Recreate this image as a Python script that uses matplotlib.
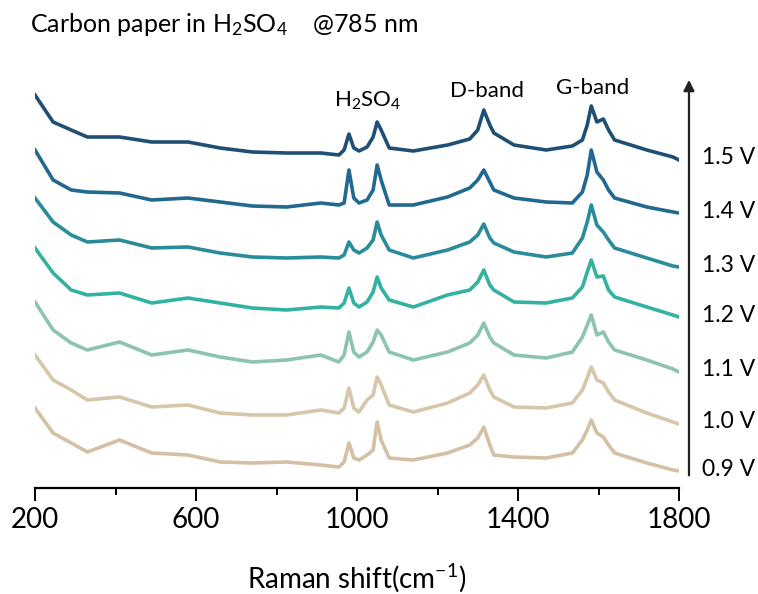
import numpy as np
import matplotlib
matplotlib.use("Agg")
import matplotlib.pyplot as plt
import matplotlib.transforms as mtransforms

plt.rcParams['font.family'] = ['Lato', 'DejaVu Sans']
plt.rcParams['mathtext.default'] = 'regular'

# Raman shift sampling points (cm-1)
raman = [200, 245, 290, 330, 410, 490, 580, 660, 740, 825,
         910, 955, 968, 980, 992, 1005, 1025, 1040, 1050, 1060,
         1080, 1140, 1225, 1280, 1300, 1315, 1330, 1340, 1390, 1470,
         1535, 1560, 1572, 1582, 1596, 1612, 1625, 1640, 1720, 1785, 1800]

# stacked intensities (a.u.)
i_15 = [405, 378, 370, 363, 363, 358, 358, 352, 348, 347,
        347, 345, 350, 366, 352, 349, 353, 363, 378, 370,
        352, 349, 355, 361, 370, 390, 375, 367, 355, 350,
        354, 360, 375, 394, 378, 381, 370, 360, 350, 343, 340]
i_14 = [350, 320, 310, 308, 307, 300, 302, 298, 294, 293,
        297, 295, 297, 330, 302, 297, 300, 310, 335, 320,
        295, 295, 303, 312, 320, 330, 318, 310, 302, 298,
        297, 308, 325, 350, 328, 320, 310, 302, 293, 288, 287]
i_13 = [302, 278, 265, 258, 260, 252, 253, 247, 243, 242,
        243, 242, 245, 258, 250, 247, 252, 260, 278, 265,
        250, 242, 250, 258, 265, 276, 262, 257, 248, 243,
        247, 262, 278, 295, 275, 268, 260, 252, 242, 234, 233]
i_12 = [252, 227, 210, 205, 207, 197, 202, 197, 192, 190,
        193, 192, 197, 212, 197, 193, 198, 208, 223, 212,
        200, 193, 205, 210, 218, 230, 215, 210, 198, 197,
        202, 213, 228, 240, 223, 224, 210, 203, 193, 185, 183]
i_11 = [198, 170, 157, 150, 158, 145, 150, 143, 138, 140,
        145, 138, 145, 168, 148, 143, 148, 158, 170, 165,
        148, 140, 148, 157, 165, 177, 163, 157, 145, 142,
        148, 163, 175, 185, 165, 168, 158, 150, 140, 131, 128]
i_10 = [145, 120, 110, 100, 103, 93, 95, 87, 85, 85,
        90, 87, 92, 112, 92, 88, 100, 105, 123, 115,
        95, 88, 97, 107, 115, 125, 110, 103, 93, 92,
        97, 110, 122, 133, 120, 117, 108, 100, 87, 78, 76]
i_09 = [92, 67, 57, 48, 60, 47, 45, 38, 37, 38,
        35, 33, 38, 57, 42, 40, 45, 50, 78, 60,
        42, 40, 47, 55, 62, 73, 55, 45, 43, 42,
        47, 60, 70, 80, 67, 63, 55, 47, 37, 30, 29]

potentials = ['1.5 V', '1.4 V', '1.3 V', '1.2 V', '1.1 V', '1.0 V', '0.9 V']
spectra = [i_15, i_14, i_13, i_12, i_11, i_10, i_09]
colors = ['#1f4f74', '#21698f', '#2a8b9b', '#33b2a2', '#8cc3b3', '#d6c6aa', '#d4c0a4']

fig = plt.figure(figsize=(7.58, 5.94), dpi=100)
ax = fig.add_axes([35/758, 106/594, 644/758, 413/594])

for y, c in zip(spectra[::-1], colors[::-1]):
    ax.plot(raman, y, color=c, lw=2.6)

ax.set_xlim(200, 1800)
ax.set_ylim(12, 425)
ax.set_xticks([200, 600, 1000, 1400, 1800])
ax.set_xticks([400, 800, 1200, 1600], minor=True)
ax.tick_params(axis='x', which='major', length=9, width=1.4, labelsize=20, pad=5)
ax.tick_params(axis='x', which='minor', length=5, width=1.4)
ax.set_yticks([])
for s in ['left', 'right', 'top']:
    ax.spines[s].set_visible(False)
ax.spines['bottom'].set_linewidth(1.6)
ax.set_xlabel('Raman shift(cm$^{-1}$)', fontsize=20, labelpad=20)

# potential labels at right
trans = mtransforms.blended_transform_factory(ax.transAxes, ax.transData)
for lab, y in zip(potentials, spectra):
    ax.text(1.036, y[-1] + 2, lab, transform=trans, fontsize=16.5,
            va='center', ha='left')

# arrow
ax.annotate('', xy=(1.0155, 0.995), xytext=(1.0155, 0.024),
            xycoords='axes fraction', textcoords='axes fraction',
            arrowprops=dict(arrowstyle='-|>', color='#222222', lw=1.6,
                            mutation_scale=16))

# band labels
ax.text(1027, 399, 'H$_2$SO$_4$', fontsize=16, ha='center', va='center', clip_on=False)
ax.text(1323, 409, 'D-band', fontsize=16, ha='center', va='center', clip_on=False)
ax.text(1585, 412, 'G-band', fontsize=16, ha='center', va='center', clip_on=False)

fig.text(30/758, 1 - 25/594, 'Carbon paper in H$_2$SO$_4$    @785 nm',
         fontsize=18, ha='left', va='center')

fig.savefig('out.png', dpi=100)
